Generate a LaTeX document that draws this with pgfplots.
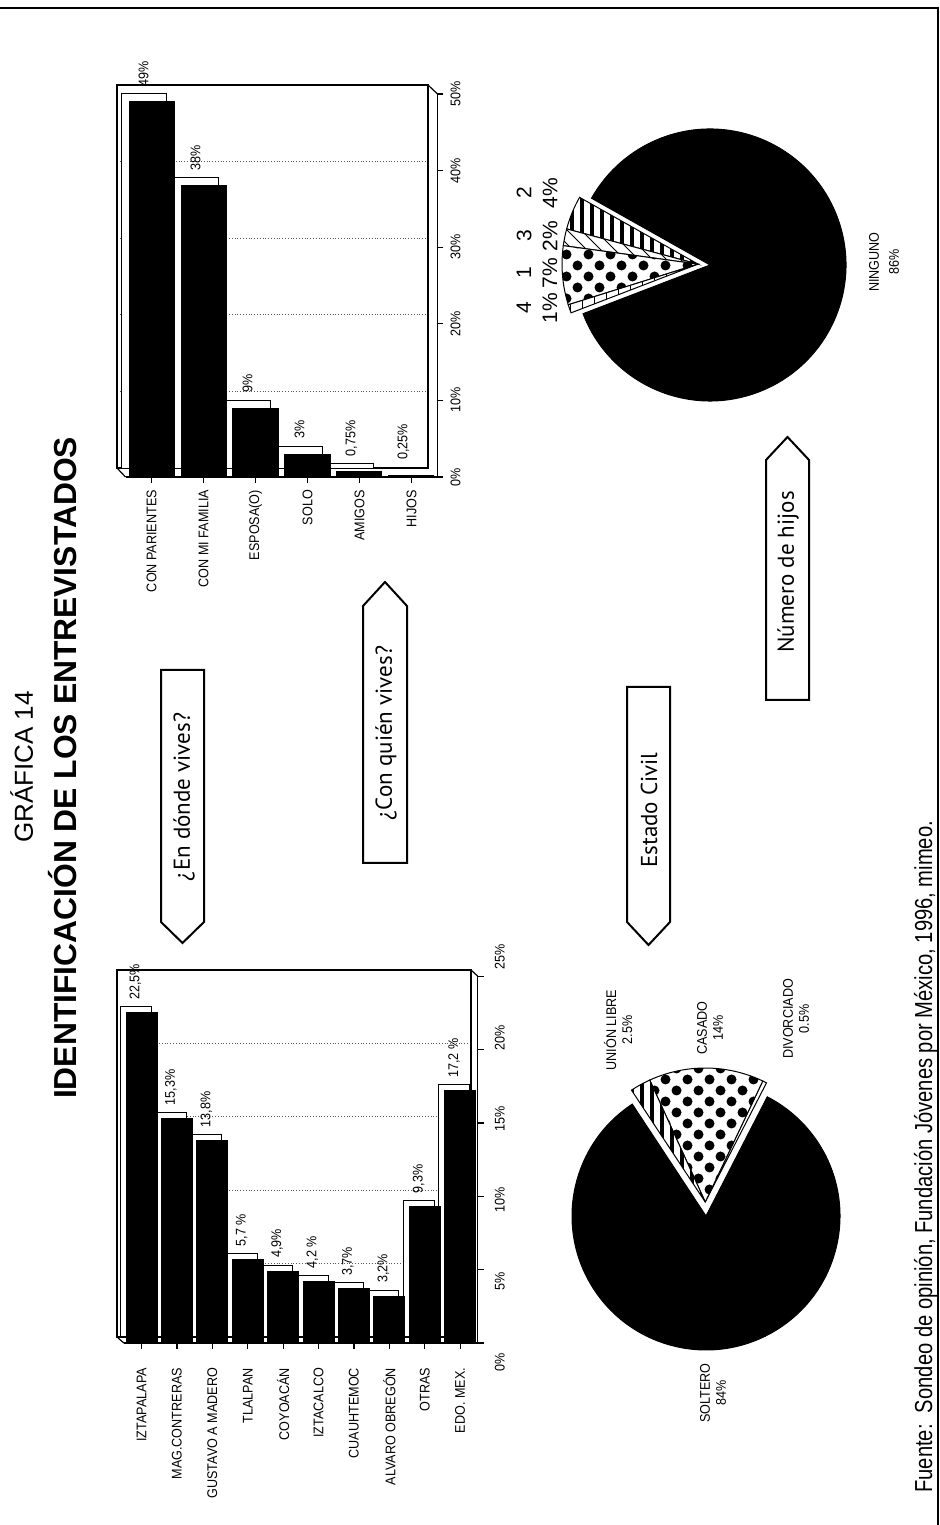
\documentclass[border=0pt]{standalone}
\usepackage{fontspec}
\setmainfont{Liberation Sans}
\newfontfamily\narrow[FakeStretch=0.9]{Liberation Sans}
\newfontfamily\footfont[FakeStretch=0.82]{Liberation Sans}
\newfontfamily\boxfont{PT Sans}
\usepackage{pgfplots}
\pgfplotsset{compat=1.18}

\newcommand\lab{\narrow\fontsize{7}{8}\selectfont}

% fill patterns of the pie slices
\pgfdeclarepatternformonly{bigdots}{\pgfqpoint{-0.5pt}{-0.5pt}}{\pgfqpoint{11.5pt}{11.5pt}}{\pgfqpoint{11pt}{11pt}}{%
  \pgfpathcircle{\pgfqpoint{2.75pt}{2.75pt}}{2.5pt}%
  \pgfpathcircle{\pgfqpoint{8.25pt}{8.25pt}}{2.5pt}%
  \pgfusepath{fill}}
\pgfdeclarepatternformonly{vstripes}{\pgfqpoint{-0.5pt}{-0.5pt}}{\pgfqpoint{5.5pt}{5.5pt}}{\pgfqpoint{5pt}{5pt}}{%
  \pgfpathrectangle{\pgfqpoint{0pt}{-0.5pt}}{\pgfqpoint{2pt}{6pt}}%
  \pgfusepath{fill}}
\pgfdeclarepatternformonly{thindiag}{\pgfqpoint{-0.5pt}{-0.5pt}}{\pgfqpoint{7.5pt}{7.5pt}}{\pgfqpoint{7pt}{7pt}}{%
  \pgfsetlinewidth{0.4pt}%
  \pgfpathmoveto{\pgfqpoint{0pt}{7pt}}\pgfpathlineto{\pgfqpoint{7pt}{0pt}}%
  \pgfusepath{stroke}}
\pgfdeclarepatternformonly{sparsev}{\pgfqpoint{-0.5pt}{-0.5pt}}{\pgfqpoint{6.5pt}{6.5pt}}{\pgfqpoint{6pt}{6pt}}{%
  \pgfsetlinewidth{0.4pt}%
  \pgfpathmoveto{\pgfqpoint{3pt}{-0.5pt}}\pgfpathlineto{\pgfqpoint{3pt}{6.5pt}}%
  \pgfusepath{stroke}}

% one pie slice inside an axis: start, end, explode angle, explode, radius, pattern|none, fill colour
\newcommand\pieslice[7]{%
  \begin{pgfscope}%
  \pgftransformshift{\pgfplotspointaxisxy{0}{0}}%
  \pgftransformresetnontranslations
  \def\mkpath{%
    \pgfpathmoveto{\pgfpointpolar{#3}{#4}}%
    \pgfpathlineto{\pgfpointadd{\pgfpointpolar{#3}{#4}}{\pgfpointpolar{#1}{#5}}}%
    \pgfpatharc{#1}{#2}{#5}%
    \pgfpathclose}%
  \begin{pgfscope}\mkpath\pgfsetfillcolor{#7}\pgfusepath{fill}\end{pgfscope}%
  \def\tmp{#6}\def\none{none}%
  \ifx\tmp\none\else
    \begin{pgfscope}\mkpath\pgfsetfillpattern{#6}{black}\pgfusepath{fill}\end{pgfscope}%
  \fi
  \begin{pgfscope}\mkpath\pgfsetlinewidth{0.5pt}\pgfsetstrokecolor{black}\pgfusepath{stroke}\end{pgfscope}%
  \end{pgfscope}%
}

\tikzset{
  box/.style={draw=black, line width=1pt, fill=white},
  boxtext/.style={rotate=90, font=\boxfont\fontsize{11.5}{13}\selectfont},
  pielab/.style={rotate=90, align=center, font=\lab},
}

\pgfplotsset{
  wall/.style={scale only axis, anchor=south west, xmin=0, xmax=1, xtick=\empty,
    yticklabels={}, major tick length=0pt, ymajorgrids,
    major grid style={densely dotted, black!65, line width=0.4pt},
    axis line style={line width=0.6pt}},
  front/.style={scale only axis, anchor=south west, ybar, clip=false,
    axis x line*=bottom, axis y line*=right,
    axis line style={line width=0.6pt},
    tick align=outside, major tick length=3pt,
    tick style={black, line width=0.6pt},
    xticklabel style={rotate=90, anchor=east, font=\lab},
    yticklabel style={rotate=90, anchor=north, font=\lab}},
  backbar/.style={fill=white, draw=black, line width=0.5pt, bar shift=0pt,
    point meta=explicit symbolic, nodes near coords,
    nodes near coords style={rotate=90, anchor=west, font=\lab, black}},
  frontbar/.style={fill=black, draw=black, line width=0.5pt, bar shift=0pt},
  pie/.style={scale only axis, hide axis, anchor=center, xmin=-1, xmax=1,
    ymin=-1, ymax=1, clip=false},
}

\begin{document}
\begin{tikzpicture}[x=0.5pt, y=0.5pt]
\path[use as bounding box] (0,0) rectangle (940,1525);
\draw[line width=1.3pt] (0,1517) -- (938,1517) -- (938,0);

% anchor points of the axes (1 unit = 1 reference pixel)
\coordinate (RW) at (117,1057);
\coordinate (RF) at (125.5,1048);
\coordinate (LW) at (117,188);
\coordinate (LF) at (123.8,182);
\coordinate (LL) at (477.8,163);
\coordinate (PL) at (706,309);
\coordinate (PR) at (710,1260);

% titles
\node[rotate=90, anchor=base, font=\fontsize{13}{15}\selectfont] at (33,758) {GRÁFICA 14};
\node[rotate=90, anchor=base, font=\fontsize{15.9}{18}\selectfont\bfseries] at (77,757) {IDENTIFICACIÓN DE LOS ENTREVISTADOS};
\node[rotate=90, anchor=base west, inner sep=0pt, font=\footfont\fontsize{12.3}{14}\selectfont] at (932,32) {Fuente:\ \ Sondeo de opinión, Fundación Jóvenes por México, 1996, mimeo.};

% arrow boxes
\draw[box] (161,855) -- (204,855) -- (204,603) -- (182.5,582) -- (161,603) -- cycle;
\node[boxtext] at (184,728) {¿En dónde vives?};
\draw[box] (363,662) -- (407,662) -- (407,919) -- (385,943) -- (363,919) -- cycle;
\node[boxtext] at (386,792) {¿Con quién vives?};
\draw[box] (627,838) -- (670,838) -- (670,603) -- (648.5,580) -- (627,603) -- cycle;
\node[boxtext] at (649,715) {Estado Civil};
\draw[box] (766,825) -- (809,825) -- (809,1065) -- (787.5,1088) -- (766,1065) -- cycle;
\node[boxtext] at (788,953) {Número de hijos};

% ---- Con quien vives
\begin{axis}[wall, at={(RW)}, width=155.5pt, height=191.5pt, ymin=0, ymax=50, ytick={10,20,30,40}]
\addplot[draw=none] coordinates {(0,0)};
\end{axis}
\begin{axis}[front, at={(RF)}, width=156pt, height=191.5pt,
  xmin=-0.5, xmax=5.5, ymin=0, ymax=50, bar width=22.5pt,
  xtick={0,...,5}, xticklabels={CON PARIENTES,CON MI FAMILIA,ESPOSA(O),SOLO,AMIGOS,HIJOS},
  ytick={0,10,...,50}, yticklabels={0\%,10\%,20\%,30\%,40\%,50\%}]
\addplot[backbar, xshift=-4pt, yshift=4pt] coordinates {(0,49)[49\%] (1,38)[38\%] (2,9)[9\%] (3,3)[3\%] (4,0.75)[0,75\%] (5,0.25)[0,25\%]};
\addplot[frontbar] coordinates {(0,49) (1,38) (2,9) (3,3) (4,0.75) (5,0.25)};
\end{axis}
\draw[line width=0.6pt] (117,1057) -- (125.5,1048);
\draw[line width=0.6pt] (428,1440) -- (437.5,1431);

% ---- En donde vives
\begin{axis}[wall, at={(LW)}, width=177pt, height=183.5pt, ymin=0, ymax=25, ytick={5,10,15,20}]
\addplot[draw=none] coordinates {(0,0)};
\end{axis}
\begin{axis}[front, at={(LF)}, width=177pt, height=183.35pt,
  xmin=-0.5, xmax=9.5, ymin=0, ymax=25, bar width=15.5pt,
  xtick={0,...,9}, xticklabels={IZTAPALAPA,MAG.CONTRERAS,GUSTAVO A MADERO,TLALPAN,COYOACÁN,IZTACALCO,CUAUHTEMOC,ALVARO OBREGÓN,OTRAS,EDO. MEX.},
  xticklabel shift=6pt, ytick={0,5,...,25}, yticklabels={}]
\addplot[backbar, xshift=-3pt, yshift=3pt] coordinates {(0,22.5)[22,5\%] (1,15.3)[15,3\%] (2,13.8)[13,8\%] (3,5.7)[5,7 \%] (4,4.9)[4,9\%] (5,4.2)[4,2 \%] (6,3.7)[3,7\%] (7,3.2)[3,2\%] (8,9.3)[9,3\%] (9,17.2)[17,2 \%]};
\addplot[frontbar] coordinates {(0,22.5) (1,15.3) (2,13.8) (3,5.7) (4,4.9) (5,4.2) (6,3.7) (7,3.2) (8,9.3) (9,17.2)};
\end{axis}
\begin{axis}[scale only axis, anchor=south east, at={(LL)}, width=10pt, height=202.5pt,
  xmin=0, xmax=1, ymin=0, ymax=25, axis x line=none, axis y line*=right,
  axis line style={draw=none}, major tick length=0pt,
  ytick={0,5,...,25}, yticklabels={0\%,5\%,10\%,15\%,20\%,25\%},
  yticklabel style={rotate=90, anchor=north, font=\lab}, yticklabel shift=5pt]
\addplot[draw=none] coordinates {(0,0)};
\end{axis}
\draw[line width=0.6pt] (117,188) -- (123.8,182);
\draw[line width=0.6pt] (471,555) -- (477.8,548.7);

% ---- Estado civil: soltero 84, casado 14, union libre 2.5, divorciado 0.5 (sum 101)
\pgfmathsetmacro\lA{62.8}
\pgfmathsetmacro\lB{\lA+0.5/101*360}
\pgfmathsetmacro\lC{\lB+14/101*360}
\pgfmathsetmacro\lD{\lC+2.5/101*360}
\pgfmathsetmacro\lE{\lD+84/101*360}
\begin{axis}[pie, at={(PL)}, width=134pt, height=134pt]
\addplot[draw=none] coordinates {(0,0)};
\pgfplotsextra{%
  \pieslice{\lA}{\lB}{93.1}{7pt}{67pt}{none}{white}%
  \pieslice{\lB}{\lC}{93.1}{7pt}{67pt}{bigdots}{white}%
  \pieslice{\lC}{\lD}{93.1}{7pt}{67pt}{vstripes}{white}%
  \pieslice{\lD}{\lE}{93.1}{0pt}{67pt}{none}{black}%
}
\end{axis}
\node[pielab] at (618,495) {UNIÓN LIBRE\\2.5\%};
\node[pielab] at (710,497) {CASADO\\14\%};
\node[pielab] at (796,506) {DIVORCIADO\\0.5\%};
\node[pielab] at (713,132) {SOLTERO\\84\%};

% ---- Numero de hijos: 2 = 4, 3 = 2, 1 = 7, 4 = 1, ninguno = 86
\pgfmathsetmacro\rA{150.6}
\pgfmathsetmacro\rB{\rA+4*3.6}
\pgfmathsetmacro\rC{\rB+2*3.6}
\pgfmathsetmacro\rD{\rC+7*3.6}
\pgfmathsetmacro\rE{\rD+1*3.6}
\pgfmathsetmacro\rF{\rE+86*3.6}
\begin{axis}[pie, at={(PR)}, width=136pt, height=136pt]
\addplot[draw=none] coordinates {(0,0)};
\pgfplotsextra{%
  \pieslice{\rA}{\rB}{175.8}{6pt}{68pt}{vstripes}{white}%
  \pieslice{\rB}{\rC}{175.8}{6pt}{68pt}{thindiag}{white}%
  \pieslice{\rC}{\rD}{175.8}{6pt}{68pt}{bigdots}{white}%
  \pieslice{\rD}{\rE}{175.8}{6pt}{68pt}{sparsev}{white}%
  \pieslice{\rE}{\rF}{175.8}{0pt}{68pt}{none}{black}%
}
\end{axis}
\node[pielab, font=\narrow\fontsize{7}{10}\selectfont] at (884,1263) {NINGUNO\\86\%};
\node[rotate=90, align=center, font=\fontsize{10.5}{13}\selectfont] at (537,1332) {2\\4\%};
\node[rotate=90, align=center, font=\fontsize{10.5}{13}\selectfont] at (537,1289) {3\\2\%};
\node[rotate=90, align=center, font=\fontsize{10.5}{13}\selectfont] at (537,1252) {1\\7\%};
\node[rotate=90, align=center, font=\fontsize{10.5}{13}\selectfont] at (537,1217) {4\\1\%};
\end{tikzpicture}
\end{document}
